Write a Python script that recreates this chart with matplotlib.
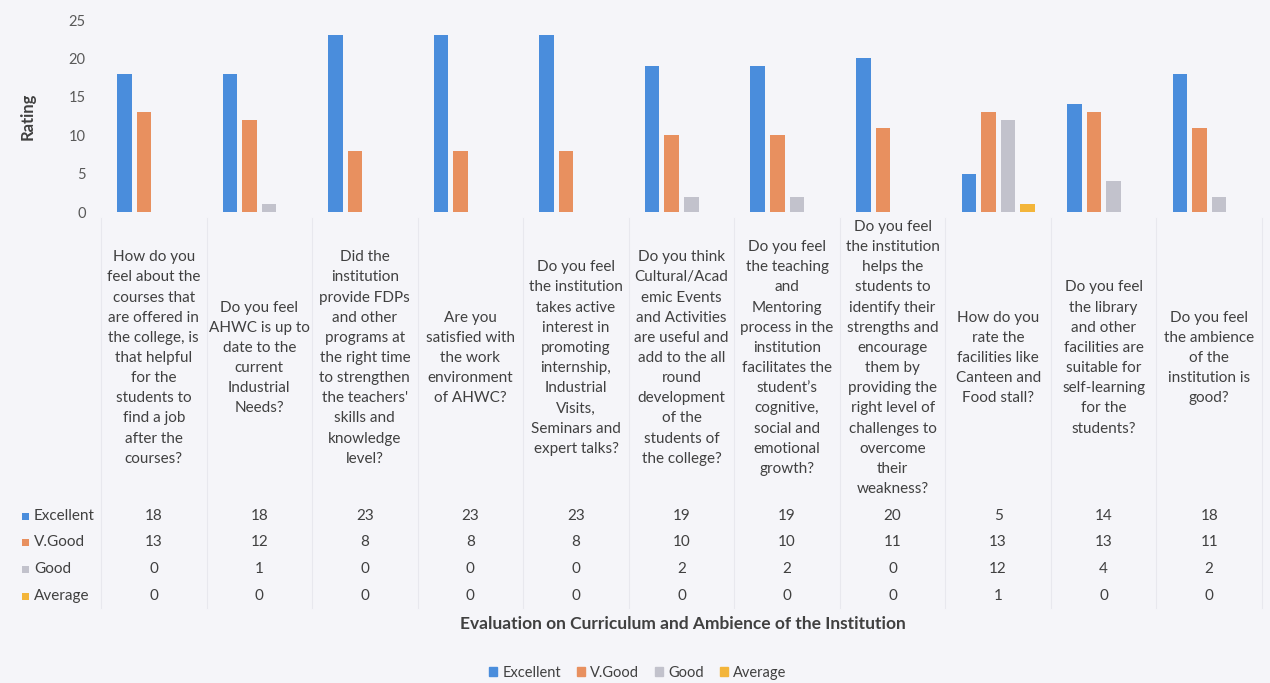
import matplotlib
matplotlib.use("Agg")
import matplotlib.pyplot as plt
import numpy as np

plt.rcParams['font.family'] = ['Lato', 'DejaVu Sans']

categories = [
    "How do you\nfeel about the\ncourses that\nare offered in\nthe college, is\nthat helpful\nfor the\nstudents to\nfind a job\nafter the\ncourses?",
    "Do you feel\nAHWC is up to\ndate to the\ncurrent\nIndustrial\nNeeds?",
    "Did the\ninstitution\nprovide FDPs\nand other\nprograms at\nthe right time\nto strengthen\nthe teachers'\nskills and\nknowledge\nlevel?",
    "Are you\nsatisfied with\nthe work\nenvironment\nof AHWC?",
    "Do you feel\nthe institution\ntakes active\ninterest in\npromoting\ninternship,\nIndustrial\nVisits,\nSeminars and\nexpert talks?",
    "Do you think\nCultural/Acad\nemic Events\nand Activities\nare useful and\nadd to the all\nround\ndevelopment\nof the\nstudents of\nthe college?",
    "Do you feel\nthe teaching\nand\nMentoring\nprocess in the\ninstitution\nfacilitates the\nstudent\u2019s\ncognitive,\nsocial and\nemotional\ngrowth?",
    "Do you feel\nthe institution\nhelps the\nstudents to\nidentify their\nstrengths and\nencourage\nthem by\nproviding the\nright level of\nchallenges to\novercome\ntheir\nweakness?",
    "How do you\nrate the\nfacilities like\nCanteen and\nFood stall?",
    "Do you feel\nthe library\nand other\nfacilities are\nsuitable for\nself-learning\nfor the\nstudents?",
    "Do you feel\nthe ambience\nof the\ninstitution is\ngood?",
]
series_names = ["Excellent", "V.Good", "Good", "Average"]
excellent = [18, 18, 23, 23, 23, 19, 19, 20, 5, 14, 18]
vgood = [13, 12, 8, 8, 8, 10, 10, 11, 13, 13, 11]
good = [0, 1, 0, 0, 0, 2, 2, 0, 12, 4, 2]
average = [0, 0, 0, 0, 0, 0, 0, 0, 1, 0, 0]
yticks = [0, 5, 10, 15, 20, 25]
title = "Evaluation on Curriculum and Ambience of the Institution"
ylabel = "Rating"

colors = ["#4a8ddc", "#e8905f", "#c2c2cc", "#f3b53a"]
bg = "#f5f5f9"
txt = "#404040"

W, H = 1270, 683
fig = plt.figure(figsize=(W / 100, H / 100), dpi=100, facecolor=bg)

left_px, right_px, top_px, bot_px = 101, 1262, 20, 212
ax = fig.add_axes([left_px / W, 1 - bot_px / H, (right_px - left_px) / W, (bot_px - top_px) / H])
ax.set_facecolor("none")

n = len(categories)
x = np.arange(n)
data = [excellent, vgood, good, average]
pitch = 0.185
width = 0.138
for i, (vals, c, name) in enumerate(zip(data, colors, series_names)):
    ax.bar(x + (i - 1.5) * pitch, vals, width=width, color=c, label=name, zorder=3)

ax.set_xlim(-0.5, n - 0.5)
ax.set_ylim(0, 25)
ax.set_yticks(yticks)
ax.tick_params(axis='y', length=0, labelsize=10.5, labelcolor="#595959", pad=11)
ax.set_xticks([])
for s in ax.spines.values():
    s.set_visible(False)
ax.set_ylabel(ylabel, fontsize=12, fontweight='bold', color=txt, labelpad=24)

# category labels (vertically centered)
trans = matplotlib.transforms.blended_transform_factory(ax.transData, fig.transFigure)
for xi, lab in zip(x, categories):
    fig.text(xi, 1 - 358 / H, lab, transform=trans, ha='center', va='center',
             fontsize=11, color=txt, linespacing=1.56, multialignment='center')

# data table
row_y = [516, 542, 569, 596]
for r, (vals, c, name) in enumerate(zip(data, colors, series_names)):
    yy = 1 - row_y[r] / H
    fig.patches.append(plt.Rectangle((22 / W, yy - 3.5 / H), 7 / W, 7 / H,
                                     transform=fig.transFigure, facecolor=c, edgecolor='none'))
    fig.text(34 / W, yy, name, ha='left', va='center', fontsize=11, color=txt)
    for xi, v in zip(x, vals):
        fig.text(xi, yy, str(v), transform=trans, ha='center', va='center', fontsize=11, color=txt)

# faint table grid lines
for k in range(n + 1):
    xp = k - 0.5
    fig.add_artist(matplotlib.lines.Line2D([xp, xp], [1 - 218 / H, 1 - 608 / H], transform=trans,
                                           color="#e8e8ee", lw=0.8))

fig.text(683 / W, 1 - 624 / H, title, ha='center', va='center', fontsize=12.5,
         fontweight='bold', color=txt)

handles = [matplotlib.patches.Patch(color=c) for c in colors]
fig.legend(handles, series_names, loc='center', bbox_to_anchor=(638 / W, 1 - 673 / H),
           ncol=4, frameon=False, fontsize=10.5, handlelength=0.55, handleheight=0.55,
           handletextpad=0.35, columnspacing=1.1, labelcolor=txt)

fig.savefig("out.png", dpi=100, facecolor=bg)
